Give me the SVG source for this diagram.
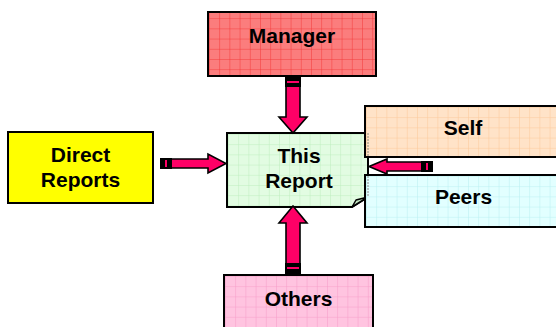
<svg xmlns="http://www.w3.org/2000/svg" width="556" height="327" viewBox="0 0 556 327">
  <defs>
    <pattern id="gridRed" width="10.2" height="10.2" patternUnits="userSpaceOnUse" x="209" y="8">
      <rect width="10.2" height="10.2" fill="#fb7d7d"/>
      <path d="M0 0H10.2M0 0V10.2" stroke="#f43a3a" stroke-width="1" fill="none"/>
    </pattern>
    <pattern id="gridPeach" width="10.2" height="10.2" patternUnits="userSpaceOnUse" x="366" y="107">
      <rect width="10.2" height="10.2" fill="#ffe3c8"/>
      <path d="M0 0H10.2M0 0V10.2" stroke="#fcc899" stroke-width="1" fill="none"/>
    </pattern>
    <pattern id="gridCyan" width="10.2" height="10.2" patternUnits="userSpaceOnUse" x="366" y="176">
      <rect width="10.2" height="10.2" fill="#e2ffff"/>
      <path d="M0 0H10.2M0 0V10.2" stroke="#b8f0f2" stroke-width="1" fill="none"/>
    </pattern>
    <pattern id="gridGreen" width="10.2" height="10.2" patternUnits="userSpaceOnUse" x="228" y="134">
      <rect width="10.2" height="10.2" fill="#e2fce2"/>
      <path d="M0 0H10.2M0 0V10.2" stroke="#bdeebd" stroke-width="1" fill="none"/>
    </pattern>
    <pattern id="gridPink" width="10.2" height="10.2" patternUnits="userSpaceOnUse" x="225" y="276">
      <rect width="10.2" height="10.2" fill="#ffc4e0"/>
      <path d="M0 0H10.2M0 0V10.2" stroke="#f79cc8" stroke-width="1" fill="none"/>
    </pattern>
  </defs>
  <style>
    .box { stroke: #000; stroke-width: 2; }
    .lbl { font-family: "Liberation Sans", Arial, sans-serif; font-weight: bold; font-size: 21px; fill: #000; text-anchor: middle; }
    .arrow { fill: #ff0066; stroke: #000; stroke-width: 1.6; stroke-linejoin: miter; }
    .band { fill: #000; }
    .stripe { fill: #ff0066; }
  </style>

  <!-- Source nodes -->
  <g id="manager">
    <rect class="box" x="208" y="12" width="168" height="64" fill="url(#gridRed)"/>
    <text class="lbl" x="292" y="43">Manager</text>
  </g>

  <g id="direct-reports">
    <rect class="box" x="8" y="132" width="145" height="71" fill="#ffff00"/>
    <text class="lbl" x="80.5" y="162">Direct</text>
    <text class="lbl" x="80.5" y="187">Reports</text>
  </g>

  <g id="this-report">
    <path class="box" d="M227 133H368V197L352 207H227Z" fill="url(#gridGreen)"/>
    <path d="M352 207L356 200L368 197Z" fill="#c4e8c4" stroke="#000" stroke-width="1.5" stroke-linejoin="round"/>
    <text class="lbl" x="299" y="163">This</text>
    <text class="lbl" x="299" y="188">Report</text>
  </g>

  <g id="self">
    <rect class="box" x="365" y="106" width="200" height="51" fill="url(#gridPeach)"/>
    <line x1="368" y1="133" x2="368" y2="156" stroke="#8a8a7a" stroke-width="1" stroke-dasharray="2 1"/>
    <text class="lbl" x="463" y="135">Self</text>
  </g>

  <g id="peers">
    <rect class="box" x="365" y="175" width="200" height="52" fill="url(#gridCyan)"/>
    <line x1="368" y1="176" x2="368" y2="197" stroke="#8a8a8a" stroke-width="1" stroke-dasharray="2 1"/>
    <text class="lbl" x="463.5" y="204">Peers</text>
  </g>

  <g id="others">
    <rect class="box" x="224" y="275" width="149" height="60" fill="url(#gridPink)"/>
    <text class="lbl" x="298.5" y="306">Others</text>
  </g>

  <!-- Connectors: block arrows pointing into the report -->
  <g id="connectors">
    <!-- from Manager (down) -->
    <g id="arrow-manager">
      <path class="arrow" d="M286 86H300V117H307L293 133L279 117H286Z"/>
      <rect class="band" x="285" y="76" width="16" height="11"/>
      <rect class="stripe" x="287" y="81" width="12" height="2"/>
    </g>
    <!-- from Direct Reports (right) -->
    <g id="arrow-direct">
      <path class="arrow" d="M171 159H208V154L226 163.5L208 173V168H171Z"/>
      <rect class="band" x="160" y="158" width="12" height="11"/>
      <rect class="stripe" x="165" y="160" width="2" height="7"/>
    </g>
    <!-- from Self / Peers (left) -->
    <g id="arrow-self">
      <path class="arrow" d="M422 162H387V159L369 166.5L387 174V171H422Z"/>
      <rect class="band" x="421" y="161" width="12" height="11"/>
      <rect class="stripe" x="426" y="163" width="2" height="7"/>
    </g>
    <!-- from Others (up) -->
    <g id="arrow-others">
      <path class="arrow" d="M286 264H300V223H307L293 206L279 223H286Z"/>
      <rect class="band" x="285" y="263" width="16" height="12"/>
      <rect class="stripe" x="287" y="267" width="12" height="2"/>
    </g>
  </g>
</svg>
